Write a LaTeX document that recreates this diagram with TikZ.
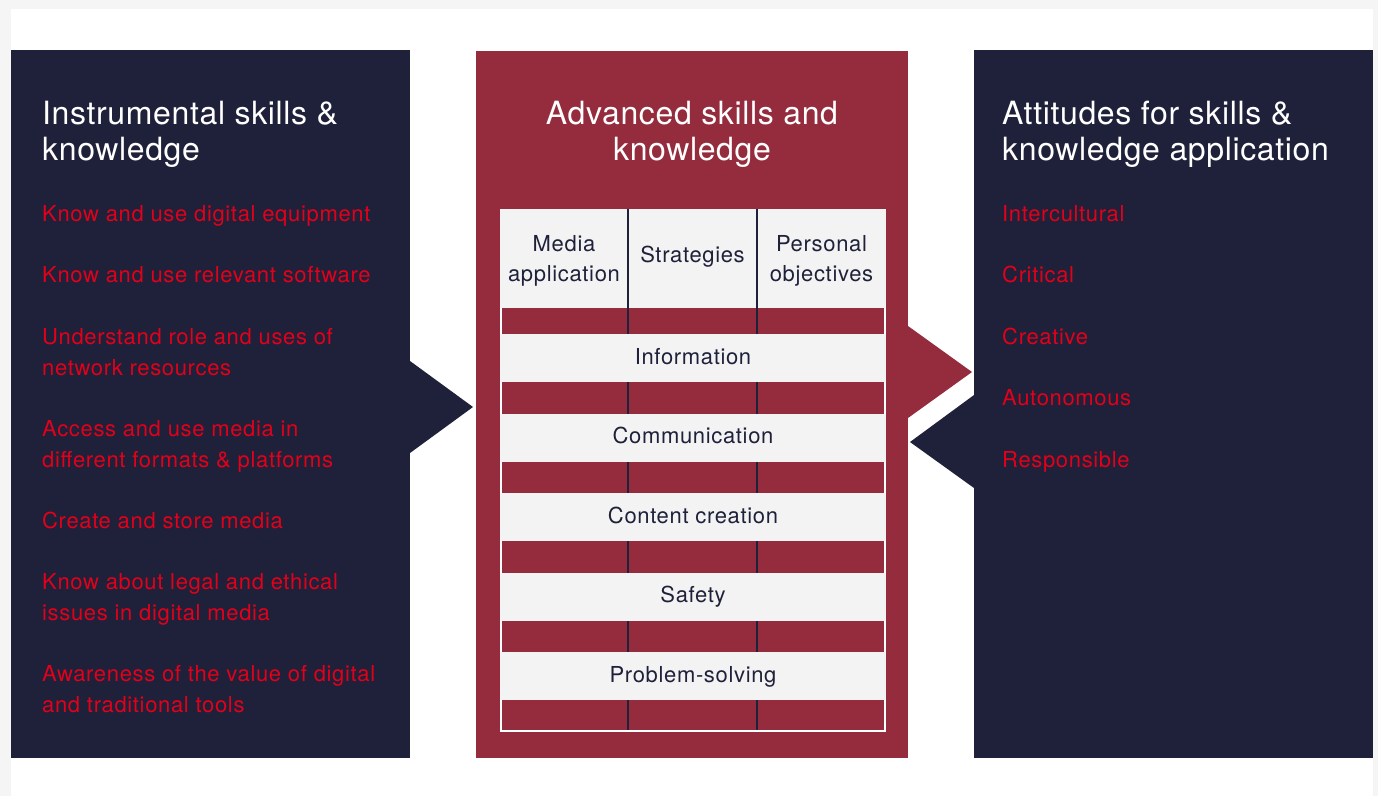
\documentclass[tikz,border=0pt]{standalone}
\usepackage{fontspec}
\setmainfont[LetterSpace=3]{TeX Gyre Heros}
\newfontfamily\titlefont[LetterSpace=2]{TeX Gyre Heros}
\usetikzlibrary{positioning}
\definecolor{navy}{HTML}{1E2139}
\definecolor{wine}{HTML}{952C3D}
\definecolor{itemred}{HTML}{E2001A}
\definecolor{cellgray}{HTML}{F3F3F3}
\definecolor{framegray}{HTML}{F5F5F5}

\begin{document}
\begin{tikzpicture}[x=1pt,y=-1pt]
        \tikzstyle{panel} = [draw=none, rectangle, anchor=north west, inner sep=0pt]
        \tikzstyle{title} = [text=white, inner sep=0pt, font=\titlefont\fontsize{32}{35.5}\selectfont]
        \tikzstyle{item} = [text=itemred, align=left, anchor=base west, inner sep=0pt, font=\fontsize{22}{31}\selectfont]
        \tikzstyle{cell} = [text=navy, align=center, anchor=base, inner sep=0pt, font=\fontsize{22}{30}\selectfont]

        \useasboundingbox (0,0) rectangle (1378,796);
        \fill[framegray] (0,0) rectangle (1378,796);
        \fill[white] (11,9) rectangle (1373,796);

        \node[panel, fill=navy, minimum width=399pt, minimum height=708pt](instr) at (11,50){};
        \node[panel, fill=wine, minimum width=432pt, minimum height=707pt](adv) at (476,51){};
        \node[panel, fill=navy, minimum width=399pt, minimum height=708pt](attit) at (974,50){};

        \fill[navy] (410,361) -- (473,407) -- (410,453) -- cycle;
        \fill[wine] (908,326) -- (972,372) -- (908,418) -- cycle;
        \fill[navy] (974,395) -- (910,442) -- (974,488) -- cycle;

        \node[title, align=left, anchor=base west](instr-t) at (42,160){Instrumental skills \&\\knowledge};
        \node[title, align=center, anchor=base](adv-t) at (692,160){Advanced skills and\\knowledge};
        \node[title, align=left, anchor=base west](attit-t) at (1002,160){Attitudes for skills \&\\knowledge application};

        \foreach \y/\txt [count=\i] in {221/Know and use digital equipment,
                282/Know and use relevant software,
                375/{Understand role and uses of\\network resources},
                467/{Access and use media in\\different formats \& platforms},
                528/Create and store media,
                620/{Know about legal and ethical\\issues in digital media},
                712/{Awareness of the value of digital\\and traditional tools}}
            \node[item](instr-\i) at (42,\y){\txt};

        \foreach \y/\txt [count=\i] in {221/Intercultural, 282/Critical, 344/Creative,
                405/Autonomous, 467/Responsible}
            \node[item](attit-\i) at (1002,\y){\txt};

        \fill[white] (500,209) rectangle (886,732);
        \fill[wine] (502,308) rectangle (884,730);
        \fill[cellgray] (500,209) rectangle (886,308);
        \draw[navy, line width=2pt] (628,209) -- (628,730);
        \draw[navy, line width=2pt] (757,209) -- (757,730);

        \node[cell](media) at (564,281){Media\\application};
        \node[cell](strat) at (692.5,262){Strategies};
        \node[cell](pers) at (821.5,281){Personal\\objectives};

        \foreach \txt [count=\i] in {Information, Communication, Content creation, Safety, Problem-solving}{
            \fill[cellgray] (500,{334+(\i-1)*79.5}) rectangle (886,{382+(\i-1)*79.5});
            \node[cell](row-\i) at (693,{364+(\i-1)*79.5}){\txt};
        }
    \end{tikzpicture}
\end{document}
